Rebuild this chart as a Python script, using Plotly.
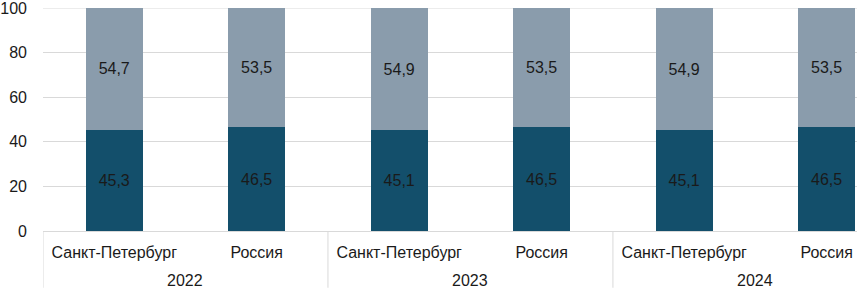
import plotly.graph_objects as go

years = ["2022", "2023", "2024"]
places = ["Санкт-Петербург", "Россия"]
lower_vals = [45.3, 46.5, 45.1, 46.5, 45.1, 46.5]
upper_vals = [54.7, 53.5, 54.9, 53.5, 54.9, 53.5]
y_ticks = [0, 20, 40, 60, 80, 100]

DARK = "#134f6b"
LIGHT = "#8a9cac"
GRID = "#d9d9d9"
FONT = "Liberation Sans, Arial, sans-serif"
TXT = "#1a1a1a"
FS = 16

xs = list(range(len(lower_vals)))
cat_labels = [p for _ in years for p in places]

def fmt(v):
    return f"{v:.1f}".replace(".", ",")

fig = go.Figure()
fig.add_bar(x=xs, y=lower_vals, marker=dict(color=DARK, line=dict(width=0)), width=0.4,
            text=[fmt(v) for v in lower_vals], textposition="inside", insidetextanchor="middle",
            textfont=dict(color=TXT, size=FS, family=FONT), hoverinfo="skip")
fig.add_bar(x=xs, y=upper_vals, marker=dict(color=LIGHT, line=dict(width=0)), width=0.4,
            text=[fmt(v) for v in upper_vals], textposition="inside", insidetextanchor="middle",
            textfont=dict(color=TXT, size=FS, family=FONT), hoverinfo="skip")

H = 288
T, B = 7, 57
plot_h = H - T - B

shapes = [dict(type="line", xref="paper", yref="y", x0=0, x1=1, y0=y_ticks[-1], y1=y_ticks[-1],
               line=dict(color=GRID, width=1), layer="below")]
for i in range(len(years)):
    xsep = -0.5 + 2 * i
    shapes.append(dict(type="line", xref="x", yref="paper", x0=xsep, x1=xsep,
                       y0=0, y1=-B / plot_h, line=dict(color=GRID, width=1)))

annotations = []
for i, yr in enumerate(years):
    annotations.append(dict(x=0.5 + 2 * i, xref="x", y=0, yref="paper", yshift=-49,
                            text=yr, showarrow=False, yanchor="middle",
                            font=dict(size=FS, color=TXT, family=FONT)))

fig.update_layout(
    barmode="stack",
    width=857, height=H,
    margin=dict(l=40, r=0, t=T, b=B, pad=0),
    plot_bgcolor="white", paper_bgcolor="white",
    showlegend=False,
    shapes=shapes,
    annotations=annotations,
    font=dict(family=FONT, size=FS, color=TXT),
    xaxis=dict(range=[-0.5, 5.213], tickvals=xs, ticktext=cat_labels,
               showgrid=False, zeroline=False, showline=True, linecolor=GRID,
               linewidth=1, ticks="", ticklabelstandoff=7,
               tickfont=dict(size=FS, color=TXT, family=FONT)),
    yaxis=dict(range=[0, 100], tickvals=y_ticks, showgrid=True, gridcolor=GRID,
               gridwidth=1, zeroline=False, showline=False, ticks="",
               ticklabelstandoff=15, ticklabeloverflow="allow",
               tickfont=dict(size=FS, color=TXT, family=FONT)),
)

fig.write_html("out.html", config={"displayModeBar": False, "staticPlot": True},
               post_script="document.body.style.margin='0';document.body.style.overflow='hidden';")
